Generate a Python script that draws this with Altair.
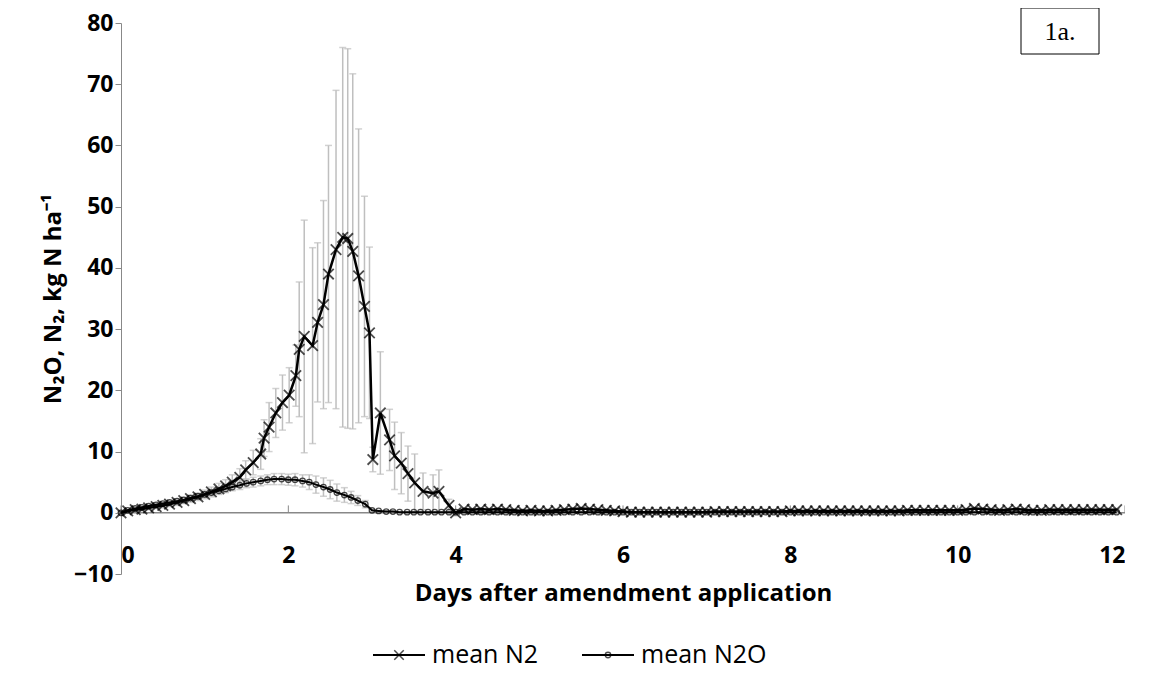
import altair as alt
import pandas as pd

# N2 peak region (days, mean, sd)
n2_days = [0.0, 0.08, 0.17, 0.25, 0.33, 0.42, 0.5, 0.58, 0.67, 0.75, 0.83, 0.92, 1.0, 1.08, 1.17,
           1.25, 1.33, 1.42, 1.49, 1.58, 1.67, 1.71, 1.77, 1.85, 1.93, 2.01, 2.09, 2.13, 2.19, 2.29,
           2.35, 2.42, 2.48, 2.57, 2.65, 2.71, 2.77, 2.84, 2.91, 2.97, 3.01, 3.10, 3.21, 3.27, 3.35,
           3.43, 3.51, 3.61, 3.73, 3.80, 3.92, 4.0]
n2_mean = [0.0, 0.3, 0.5, 0.6, 0.8, 1.0, 1.2, 1.4, 1.7, 2.0, 2.3, 2.6, 3.0, 3.4, 3.9, 4.4, 5.0, 5.8,
           7.0, 8.2, 9.6, 12.2, 14.0, 16.3, 18.0, 19.2, 22.4, 26.7, 28.8, 27.3, 31.1, 34.0, 39.0,
           43.0, 45.0, 44.8, 42.7, 38.7, 33.7, 29.4, 8.7, 16.3, 11.9, 9.3, 8.1, 6.4, 4.9, 3.5, 3.2,
           3.5, 1.2, 0.0]
n2_sd = [0.1, 0.2, 0.2, 0.3, 0.3, 0.3, 0.4, 0.4, 0.5, 0.5, 0.6, 0.6, 0.7, 0.8, 0.9, 1.0, 1.2, 1.4,
         1.5, 2.0, 2.5, 3.0, 4.0, 4.0, 4.5, 4.5, 5.0, 11.0, 19.0, 16.0, 13.0, 17.0, 21.0, 26.0, 31.0,
         31.0, 29.0, 24.0, 18.0, 14.0, 2.0, 10.0, 5.0, 5.5, 5.0, 4.5, 4.7, 3.0, 3.0, 3.5, 1.0, 0.5]

n2o_days = [0.0, 0.08, 0.17, 0.25, 0.33, 0.42, 0.5, 0.58, 0.67, 0.75, 0.83, 0.92, 1.0, 1.08, 1.17,
            1.25, 1.33, 1.42, 1.5, 1.58, 1.67, 1.75, 1.83, 1.92, 2.0, 2.08, 2.17, 2.25, 2.33, 2.42,
            2.5, 2.58, 2.67, 2.75, 2.83, 2.92, 3.0, 3.08, 3.17, 3.25, 3.33, 3.42, 3.5, 3.58, 3.67,
            3.75, 3.83, 3.92, 4.0]
n2o_mean = [0.0, 0.4, 0.7, 0.9, 1.1, 1.3, 1.5, 1.7, 1.9, 2.1, 2.4, 2.7, 3.0, 3.3, 3.6, 3.9, 4.2, 4.5,
            4.8, 5.0, 5.2, 5.4, 5.5, 5.5, 5.4, 5.4, 5.2, 5.0, 4.6, 4.2, 3.8, 3.3, 2.9, 2.5, 2.0, 1.4,
            0.4, 0.3, 0.2, 0.2, 0.1, 0.1, 0.1, 0.1, 0.1, 0.1, 0.1, 0.1, 0.1]
n2o_sd = [0.1, 0.1, 0.1, 0.2, 0.2, 0.2, 0.2, 0.3, 0.3, 0.3, 0.4, 0.4, 0.4, 0.5, 0.5, 0.6, 0.6, 0.7,
          0.7, 0.8, 0.8, 0.8, 0.9, 0.9, 0.9, 1.0, 1.0, 1.2, 1.4, 1.5, 1.5, 1.4, 1.2, 1.0, 0.8, 0.6,
          0.2, 0.1, 0.1, 0.1, 0.0, 0.0, 0.0, 0.0, 0.0, 0.0, 0.0, 0.0, 0.0]

# low tail after day 4
tail_days = [4.1, 4.2, 4.3, 4.4, 4.5, 4.6, 4.7, 4.8, 4.9, 5.0, 5.1, 5.2, 5.3, 5.4, 5.5, 5.6, 5.7,
             5.8, 5.9, 6.0, 6.1, 6.2, 6.3, 6.4, 6.5, 6.6, 6.7, 6.8, 6.9, 7.0, 7.1, 7.2, 7.3, 7.4,
             7.5, 7.6, 7.7, 7.8, 7.9, 8.0, 8.1, 8.2, 8.3, 8.4, 8.5, 8.6, 8.7, 8.8, 8.9, 9.0, 9.1,
             9.2, 9.3, 9.4, 9.5, 9.6, 9.7, 9.8, 9.9, 10.0, 10.1, 10.2, 10.3, 10.4, 10.5, 10.6,
             10.7, 10.8, 10.9, 11.0, 11.1, 11.2, 11.3, 11.4, 11.5, 11.6, 11.7, 11.8, 11.9]
tail_n2 = [0.6, 0.5, 0.6, 0.5, 0.6, 0.5, 0.4, 0.3, 0.4, 0.3, 0.3, 0.4, 0.5, 0.6, 0.7, 0.6, 0.5,
           0.4, 0.3, 0.2, 0.1, 0.1, 0.1, 0.1, 0.1, 0.1, 0.1, 0.1, 0.1, 0.1, 0.2, 0.2, 0.2, 0.2,
           0.2, 0.2, 0.2, 0.2, 0.2, 0.3, 0.3, 0.3, 0.3, 0.3, 0.3, 0.3, 0.3, 0.3, 0.3, 0.3, 0.3,
           0.3, 0.3, 0.4, 0.4, 0.4, 0.4, 0.4, 0.4, 0.4, 0.5, 0.7, 0.6, 0.5, 0.4, 0.5, 0.6, 0.5,
           0.4, 0.4, 0.5, 0.5, 0.5, 0.5, 0.5, 0.5, 0.5, 0.5, 0.5]
tail_n2o = [0.1] * len(tail_days)
tail_sd = [0.2] * len(tail_days)

n2 = pd.DataFrame({"day": n2_days + tail_days, "v": n2_mean + tail_n2, "sd": n2_sd + tail_sd})
n2o = pd.DataFrame({"day": n2o_days + tail_days, "v": n2o_mean + tail_n2o,
                    "sd": n2o_sd + [0.05] * len(tail_days)})
for d in (n2, n2o):
    d["lo"] = d["v"] - d["sd"]
    d["hi"] = d["v"] + d["sd"]

x_ticks = [0, 2, 4, 6, 8, 10, 12]
y_ticks = [-10, 0, 10, 20, 30, 40, 50, 60, 70, 80]
xs = alt.Scale(domain=[0, 12], nice=False)
ys = alt.Scale(domain=[-10, 80], nice=False)
F = "Open Sans"
GREY = "#BFBFBF"
XSHAPE = "M-1,-1L1,1M1,-1L-1,1"


def err(df):
    base = alt.Chart(df)
    bar = base.mark_rule(color=GREY, strokeWidth=1.5).encode(
        x=alt.X("day:Q", scale=xs), y=alt.Y("lo:Q", scale=ys), y2="hi:Q")
    cap = base.mark_tick(color=GREY, thickness=1.5, size=7, orient="horizontal").encode(
        x=alt.X("day:Q", scale=xs), y=alt.Y("hi:Q", scale=ys))
    cap2 = base.mark_tick(color=GREY, thickness=1.5, size=7, orient="horizontal").encode(
        x=alt.X("day:Q", scale=xs), y=alt.Y("lo:Q", scale=ys))
    return bar + cap + cap2


axes = alt.Chart(pd.DataFrame({"day": [0]})).mark_point(opacity=0).encode(
    x=alt.X("day:Q", scale=xs, title="Days after amendment application",
            axis=alt.Axis(values=x_ticks, format="d", domain=False, ticks=False, grid=False,
                          offset=-32, labelFontSize=23, labelFontWeight="bold", labelFont=F,
                          labelColor="black", titleFontSize=24, titleFont=F,
                          titleFontWeight="bold", titlePadding=14, titleColor="black")),
    y=alt.Y("day:Q", scale=ys, title="N₂O, N₂, kg N ha⁻¹",
            axis=alt.Axis(values=y_ticks, grid=False, domainColor="#888", tickColor="#888",
                          tickSize=6, labelFontSize=23, labelFontWeight="bold", labelFont=F,
                          labelColor="black", titleFontSize=24, titleFont=F, titleColor="black",
                          titleFontWeight="bold", titlePadding=8)),
)

zero = pd.DataFrame({"day": [0, 12], "z": [0, 0]})
zline = alt.Chart(zero).mark_line(color="#888", strokeWidth=1.5).encode(
    x=alt.X("day:Q", scale=xs), y=alt.Y("z:Q", scale=ys))
tk = pd.DataFrame({"day": x_ticks, "z": [0] * 7, "t": [1.2] * 7})
ticks = alt.Chart(tk).mark_rule(color="#888").encode(
    x=alt.X("day:Q", scale=xs), y=alt.Y("z:Q", scale=ys), y2="t:Q")

n2_line = alt.Chart(n2).mark_line(color="black", strokeWidth=2.5).encode(
    x=alt.X("day:Q", scale=xs), y=alt.Y("v:Q", scale=ys))
n2_pts = alt.Chart(n2).mark_point(shape=XSHAPE, color="black", size=110, strokeWidth=1.8).encode(
    x=alt.X("day:Q", scale=xs), y=alt.Y("v:Q", scale=ys))
n2o_line = alt.Chart(n2o).mark_line(color="black", strokeWidth=2).encode(
    x=alt.X("day:Q", scale=xs), y=alt.Y("v:Q", scale=ys))
n2o_pts = alt.Chart(n2o).mark_point(shape="circle", color="black", size=30, filled=False,
                                    strokeWidth=1.3).encode(
    x=alt.X("day:Q", scale=xs), y=alt.Y("v:Q", scale=ys))

# label box and legend
box = alt.Chart(pd.DataFrame({"t": ["1a."]})).mark_rect(
    fill="white", stroke="black", strokeWidth=1).encode(
    x=alt.value(900), x2=alt.value(978), y=alt.value(-15), y2=alt.value(31))
box_t = alt.Chart(pd.DataFrame({"t": ["1a."]})).mark_text(
    font="Liberation Serif", fontSize=26, color="black").encode(
    text="t:N", x=alt.value(939), y=alt.value(9))

leg = pd.DataFrame({"t": ["mean N2", "mean N2O"], "x": [252, 461]})
leg_l = alt.Chart(leg).mark_rule(color="black", strokeWidth=2).encode(
    x=alt.X("x:Q", scale=None), x2=alt.X2("xe:Q"), y=alt.value(632)).transform_calculate(xe="datum.x+52")
leg_x = alt.Chart(leg.iloc[[0]]).mark_point(shape=XSHAPE, color="black", size=90,
                                             strokeWidth=1.5).encode(
    x=alt.X("xm:Q", scale=None), y=alt.value(632)).transform_calculate(xm="datum.x+26")
leg_o = alt.Chart(leg.iloc[[1]]).mark_point(shape="circle", color="black", size=30,
                                             strokeWidth=1.3).encode(
    x=alt.X("xm:Q", scale=None), y=alt.value(632)).transform_calculate(xm="datum.x+26")
leg_t = alt.Chart(leg).mark_text(align="left", baseline="middle", font=F, fontSize=25,
                                 color="black").encode(
    x=alt.X("xt:Q", scale=None), y=alt.value(632), text="t:N").transform_calculate(xt="datum.x+59")

chart = alt.layer(axes, zline, ticks, err(n2), err(n2o), n2o_line, n2o_pts, n2_line, n2_pts,
                  box, box_t, leg_l, leg_x, leg_o, leg_t).properties(
    width=1004, height=551, autosize=alt.AutoSizeParams(type="none"),
    padding={"left": 113, "top": 15, "right": 0, "bottom": 120},
).configure_view(stroke=None)

chart.save("out.html", embed_options={"renderer": "svg", "actions": False})
